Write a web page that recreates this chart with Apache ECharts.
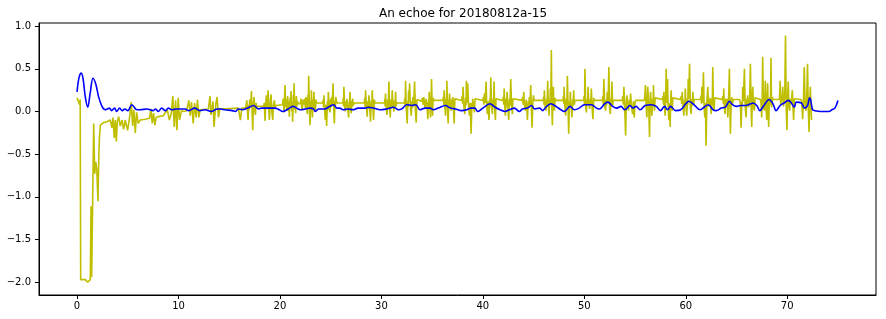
<!DOCTYPE html>
<html>
<head>
<meta charset="utf-8">
<script src="https://cdn.jsdelivr.net/npm/echarts@6/dist/echarts.min.js"></script>
<style>
html,body{margin:0;padding:0;background:#fff;}
#chart{width:886px;height:319px;}
</style>
</head>
<body>
<div id="chart"></div>
<script>
const chartTitle = "An echoe for 20180812a-15";
const xTicks = [0, 10, 20, 30, 40, 50, 60, 70];
const yTicks = [-2.0, -1.5, -1.0, -0.5, 0.0, 0.5, 1.0];

// yellow: the echo signal [time, amplitude]
const echoSignal = [
[0,0.16],[0.1,0.15],[0.19,0.16],[0.26,0.08],[0.31,0.14],[0.36,-1.97],[0.6,-1.97],[0.82,-1.97],[0.92,-1.98],[1.05,-2.0],[1.18,-1.99],[1.31,-1.97],[1.38,-1.11],[1.44,-1.94],[1.57,-1.95],[1.64,-0.14],[1.74,-0.73],[1.84,-0.59],[1.94,-0.66],[2.06,-1.05],[2.16,-0.45],[2.22,-0.28],[2.3,-0.16],[2.6,-0.13],[2.95,-0.12],[3.27,-0.1],
[3.28,-0.12],[3.44,-0.19],[3.54,-0.07],[3.67,-0.31],[3.77,-0.10],[3.87,-0.35],[3.97,-0.12],[4.1,-0.06],[4.26,-0.17],[4.43,-0.10],[4.59,-0.21],[4.75,-0.10],[4.98,-0.22],[5.18,-0.07],[5.34,0.11],[5.48,-0.17],[5.6,0.02],[5.74,-0.25],[5.87,-0.01],[6.03,-0.14],[6.23,-0.10],[6.72,-0.09],[7.15,-0.08],[7.28,0.03],[7.41,-0.14],[7.54,-0.02],[7.67,-0.16],[7.8,-0.07],[8.0,-0.06],[8.5,-0.05],[8.9,0.02],[9.1,-0.10],[9.28,-0.03],[9.44,0.18],[9.58,-0.18],[9.71,0.13],[9.84,-0.22],[9.97,0.16],[10.1,-0.10],[10.3,0.01],[10.5,0.0],[10.8,0.01],
[10.92,0.02],[11.02,0.13],[11.15,-0.05],[11.28,0.11],[11.45,-0.14],[11.58,0.10],[11.74,-0.07],[11.87,0.14],[12.0,-0.07],[12.14,0.02],[12.95,0.03],[13.1,0.18],[13.2,-0.04],[13.4,0.12],[13.5,-0.18],[13.68,0.09],[13.8,0.17],[13.94,-0.07],[14.07,0.03],[15.9,0.04],[16.1,-0.10],[16.24,0.04],
[16.6,0.04],[16.67,0.08],[16.73,0.13],[16.8,0.0],[16.86,-0.10],[16.93,0.08],[16.97,0.02],[17.02,0.14],[17.1,0.05],[17.19,0.24],[17.25,0.0],[17.32,-0.22],[17.38,0.08],[17.45,0.17],[17.52,0.02],[17.58,-0.04],[17.64,0.1],[17.7,0.06],
[18.4,0.06],[18.46,0.1],[18.53,-0.11],[18.6,0.1],[18.67,0.19],[18.74,0.05],[18.83,0.25],[18.9,0.02],[18.96,-0.10],[19.04,0.1],[19.12,0.20],[19.2,0.0],[19.29,-0.10],[19.36,0.08],[19.45,0.13],[19.52,0.03],[19.6,0.07],
[20.25,0.08],[20.32,0.15],[20.4,-0.01],[20.5,0.31],[20.56,0.05],[20.6,0.14],[20.66,0.01],[20.76,0.18],[20.84,0.0],[20.88,0.12],[20.93,-0.06],[21.0,0.16],[21.05,0.06],[21.09,0.24],[21.17,0.0],[21.21,0.1],[21.25,-0.12],[21.33,0.2],[21.36,0.1],[21.39,0.33],[21.46,0.02],[21.5,0.12],[21.55,-0.02],[21.62,0.18],[21.68,0.06],[21.74,0.12],[21.8,0.09],
[22.0,0.09],[22.08,0.15],[22.14,0.05],[22.2,0.02],[22.28,0.14],[22.37,0.08],[22.45,0.15],[22.5,0.04],[22.57,0.17],[22.64,0.06],[22.7,-0.03],[22.76,0.2],[22.8,0.1],[22.83,0.42],[22.9,0.05],[22.96,-0.16],[23.03,0.12],[23.06,0.0],[23.1,0.25],[23.15,0.08],[23.2,-0.07],[23.28,0.14],[23.31,0.04],[23.35,0.23],[23.42,0.05],[23.5,0.01],[23.55,0.14],[23.6,0.10],
[24.2,0.10],[24.27,0.14],[24.3,0.05],[24.34,0.19],[24.4,0.02],[24.47,-0.10],[24.53,0.08],[24.6,-0.17],[24.68,0.12],[24.72,0.02],[24.77,0.23],[24.85,0.04],[24.93,-0.01],[25.0,0.15],[25.05,0.05],[25.1,0.17],[25.16,0.08],[25.23,0.33],[25.3,0.02],[25.36,-0.14],[25.43,0.12],[25.46,0.04],[25.5,0.17],[25.6,0.10],
[26.2,0.10],[26.25,0.16],[26.27,0.06],[26.3,0.29],[26.37,0.08],[26.44,0.0],[26.5,0.12],[26.55,0.05],[26.6,0.15],[26.68,0.04],[26.77,-0.07],[26.83,0.12],[26.86,0.05],[26.9,0.23],[26.97,0.06],[27.03,-0.02],[27.1,0.12],[27.13,0.06],[27.16,0.15],[27.23,0.07],[27.3,0.10],
[28.3,0.10],[28.36,0.16],[28.4,0.05],[28.44,0.25],[28.52,0.06],[28.6,-0.06],[28.66,0.12],[28.7,0.03],[28.77,0.19],[28.85,0.04],[28.93,-0.12],[29.0,0.13],[29.04,0.04],[29.1,0.25],[29.17,0.03],[29.23,-0.10],[29.3,0.14],[29.36,0.10],
[30.3,0.10],[30.34,0.15],[30.37,0.06],[30.4,0.21],[30.48,0.05],[30.55,-0.04],[30.62,0.14],[30.67,0.04],[30.74,0.35],[30.8,0.05],[30.87,-0.07],[30.95,0.14],[31.0,0.05],[31.07,0.25],[31.15,0.06],[31.23,0.0],[31.3,0.13],[31.35,0.05],[31.4,0.23],[31.45,0.06],[31.5,0.10],
[32.25,0.10],[32.3,0.15],[32.34,0.06],[32.38,0.36],[32.45,0.04],[32.54,-0.14],[32.6,0.12],[32.64,0.05],[32.68,0.25],[32.72,0.12],[32.78,0.33],[32.86,0.04],[32.94,-0.05],[33.0,0.12],[33.05,0.04],[33.1,0.17],[33.18,0.06],[33.27,0.35],[33.35,0.02],[33.43,-0.13],[33.5,0.14],[33.56,0.12],
[33.95,0.12],[34.05,0.16],[34.1,0.08],[34.18,0.17],[34.25,0.08],[34.31,0.03],[34.4,0.15],[34.44,0.07],[34.48,0.11],[34.58,-0.09],[34.65,0.14],[34.68,0.05],[34.71,0.23],[34.78,0.06],[34.84,-0.07],[34.9,0.16],[34.94,0.38],[35.0,0.06],[35.04,-0.05],[35.1,0.16],[35.17,0.13],
[36.05,0.13],[36.1,0.17],[36.14,0.08],[36.18,0.25],[36.25,0.06],[36.32,-0.05],[36.38,0.15],[36.41,0.07],[36.45,0.36],[36.52,0.04],[36.58,-0.14],[36.65,0.14],[36.68,0.06],[36.71,0.21],[36.8,0.07],[36.88,0.01],[36.96,0.15],[37.0,0.08],[37.05,0.17],[37.1,0.04],[37.17,-0.14],[37.24,0.15],[37.3,0.13],
[37.9,0.13],[37.96,0.18],[38.0,0.09],[38.05,0.29],[38.13,0.06],[38.22,-0.03],[38.3,0.16],[38.34,0.07],[38.38,0.36],[38.44,0.1],[38.5,0.33],[38.6,0.05],[38.68,-0.05],[38.75,0.1],[38.84,-0.26],[38.92,0.1],[38.96,0.05],[39.0,0.15],[39.08,0.06],[39.17,-0.01],[39.23,0.15],[39.3,0.13],
[40.0,0.13],[40.06,0.17],[40.1,0.08],[40.15,0.21],[40.22,0.1],[40.32,0.35],[40.38,0.06],[40.45,-0.03],[40.52,0.12],[40.6,-0.10],[40.68,0.15],[40.72,0.06],[40.78,0.40],[40.86,0.05],[40.94,-0.03],[41.02,0.15],[41.06,0.07],[41.1,0.35],[41.17,0.03],[41.24,-0.10],[41.3,0.15],[41.37,0.13],
[41.96,0.13],[42.02,0.17],[42.06,0.08],[42.1,0.27],[42.16,0.06],[42.22,-0.05],[42.3,0.15],[42.34,0.06],[42.39,0.23],[42.47,0.04],[42.55,-0.10],[42.62,0.15],[42.67,0.07],[42.75,0.38],[42.83,0.06],[42.91,-0.03],[42.97,0.15],[43.04,0.13],
[43.86,0.13],[43.92,0.17],[43.97,0.08],[44.03,0.23],[44.1,0.07],[44.2,0.01],[44.27,0.14],[44.32,0.05],[44.39,-0.10],[44.47,0.12],[44.52,0.05],[44.58,0.17],[44.65,0.08],[44.71,0.31],[44.78,0.04],[44.85,-0.19],[44.92,0.1],[44.98,0.19],[45.05,0.13],
[45.93,0.13],[46.0,0.17],[46.03,0.08],[46.06,0.25],[46.14,0.06],[46.22,0.01],[46.3,0.15],[46.34,0.08],[46.39,0.36],[46.46,0.06],[46.52,-0.05],[46.58,0.14],[46.62,0.08],[46.65,0.27],[46.7,0.1],[46.75,0.72],[46.8,0.05],[46.85,-0.16],[46.9,0.12],[46.95,0.29],[47.0,0.06],[47.05,0.01],[47.12,0.16],[47.18,0.13],
[47.9,0.13],[47.95,0.18],[47.98,0.09],[48.0,0.29],[48.08,0.06],[48.16,-0.05],[48.23,0.15],[48.28,0.07],[48.33,0.42],[48.4,0.04],[48.46,-0.26],[48.53,0.12],[48.57,0.05],[48.62,0.23],[48.7,0.05],[48.78,-0.07],[48.86,0.14],[48.9,0.07],[48.95,0.25],[49.02,0.08],[49.08,0.13],
[49.93,0.13],[49.98,0.18],[50.02,0.08],[50.06,0.50],[50.13,0.06],[50.2,-0.01],[50.28,0.14],[50.32,0.08],[50.36,0.29],[50.44,0.1],[50.52,0.03],[50.6,0.15],[50.64,0.07],[50.69,0.27],[50.77,0.04],[50.85,-0.09],[50.92,0.16],[50.98,0.13],
[51.77,0.13],[51.82,0.18],[51.87,0.08],[51.93,0.38],[52.0,0.07],[52.1,0.01],[52.16,0.14],[52.2,0.07],[52.26,0.23],[52.34,0.1],[52.42,0.52],[52.49,0.05],[52.56,-0.03],[52.63,0.15],[52.67,0.08],[52.72,0.35],[52.79,0.07],[52.85,0.13],
[53.74,0.13],[53.8,0.18],[53.85,0.08],[53.9,0.29],[53.98,0.05],[54.07,-0.28],[54.14,0.12],[54.2,0.19],[54.28,0.06],[54.36,0.01],[54.44,0.14],[54.5,0.06],[54.56,0.21],[54.66,0.05],[54.76,-0.03],[54.84,0.12],[54.92,-0.07],[54.99,0.1],[55.05,0.13],
[55.93,0.13],[56.03,0.31],[56.1,0.06],[56.16,-0.07],[56.21,0.12],[56.26,0.29],[56.35,0.05],[56.43,-0.30],[56.48,0.1],[56.53,0.23],[56.6,0.06],[56.66,-0.05],[56.74,0.15],[56.78,0.08],[56.82,0.31],[56.87,0.08],[56.92,0.01],[56.98,0.16],[57.05,0.14],
[57.7,0.14],[57.76,0.18],[57.8,0.08],[57.84,0.23],[57.9,0.06],[57.97,-0.05],[58.02,0.15],[58.07,0.50],[58.13,0.1],[58.2,0.38],[58.27,0.04],[58.33,-0.10],[58.39,0.1],[58.46,-0.18],[58.51,0.12],[58.56,0.25],[58.61,0.06],[58.66,0.01],[58.73,0.16],[58.8,0.14],
[59.48,0.14],[59.55,0.18],[59.6,0.09],[59.65,0.23],[59.73,0.06],[59.81,-0.05],[59.88,0.14],[59.92,0.07],[59.95,0.27],[60.02,0.05],[60.1,-0.05],[60.17,0.16],[60.2,0.08],[60.24,0.38],[60.3,0.15],[60.37,0.56],[60.45,0.05],[60.53,-0.03],[60.6,0.15],[60.65,0.07],[60.7,0.23],[60.77,0.08],[60.83,0.14],
[61.45,0.14],[61.52,0.19],[61.55,0.09],[61.58,0.29],[61.66,0.1],[61.74,0.46],[61.81,0.05],[61.88,-0.07],[61.94,0.1],[62.0,-0.40],[62.08,0.12],[62.17,0.29],[62.25,0.06],[62.33,0.09],[62.42,0.16],[62.5,-0.03],[62.58,0.15],[62.62,0.08],[62.66,0.52],[62.72,0.06],[62.79,0.01],[62.85,0.16],[62.9,0.14],
[63.58,0.14],[63.66,0.18],[63.7,0.09],[63.74,0.27],[63.8,0.06],[63.87,-0.03],[63.95,0.15],[64.0,0.06],[64.04,0.09],[64.09,0.15],[64.14,-0.07],[64.22,0.14],[64.3,0.50],[64.35,0.06],[64.4,-0.26],[64.47,0.1],[64.53,0.17],[64.6,0.08],[64.67,0.14],
[65.3,0.14],[65.38,0.1],[65.45,-0.19],[65.53,0.12],[65.57,0.06],[65.61,0.29],[65.68,0.12],[65.78,0.50],[65.86,0.05],[65.94,-0.07],[66.02,0.15],[66.06,0.08],[66.1,0.19],[66.17,0.05],[66.24,0.08],[66.3,0.17],[66.37,0.56],[66.44,0.05],[66.5,-0.18],[66.55,0.12],[66.6,0.29],[66.68,0.05],[66.76,0.01],[66.83,0.16],[66.9,0.14],
[67.35,0.14],[67.42,0.1],[67.48,-0.07],[67.53,0.15],[67.58,0.64],[67.66,0.06],[67.75,0.01],[67.8,0.16],[67.84,0.36],[67.91,0.06],[67.98,-0.10],[68.02,0.14],[68.07,0.33],[68.12,0.05],[68.17,-0.18],[68.23,0.1],[68.3,0.17],[68.35,0.08],[68.4,0.63],[68.45,0.05],[68.5,0.09],[68.55,0.17],[68.6,0.14],
[69.2,0.14],[69.25,0.18],[69.3,0.36],[69.36,0.08],[69.43,0.07],[69.5,0.17],[69.56,0.29],[69.63,0.06],[69.7,0.13],[69.76,0.2],[69.83,0.89],[69.9,0.05],[69.97,-0.22],[70.03,0.12],[70.1,0.35],[70.17,0.06],[70.24,0.01],[70.3,0.15],[70.37,0.09],[70.44,0.16],[70.5,0.25],[70.57,0.05],[70.63,-0.10],[70.7,0.15],[70.77,0.14],
[71.36,0.14],[71.44,0.1],[71.52,-0.09],[71.6,0.14],[71.68,0.52],[71.76,0.06],[71.85,0.01],[71.92,0.15],[72.0,0.56],[72.07,0.05],[72.15,-0.24],[72.22,0.12],[72.28,0.29],[72.34,0.05],[72.4,-0.10]
];

// blue: the smooth model trace [time, amplitude]
const echoModel = [
[0,0.23],[0.2,0.40],[0.42,0.45],[0.6,0.38],[0.8,0.18],[1.05,0.05],[1.3,0.22],[1.57,0.39],[1.85,0.32],[2.13,0.17],[2.46,0.06],[2.79,0.02],[3.0,0.03],[3.2,0.04],[3.4,0.01],[3.7,0.04],[3.9,0.0],[4.2,0.04],[4.45,0.01],[4.7,0.03],[5.0,0.01],[5.4,0.08],[5.9,0.02],[6.2,0.02],[6.9,0.03],[7.5,0.01],[7.75,0.03],[8.0,0.0],[8.35,0.04],[8.7,0.01],[9.0,0.04],[9.35,0.02],[9.7,0.03],[10.2,0.03],[10.66,0.03],[11.0,0.01],[11.6,0.04],[12.1,0.01],[12.6,0.02],[13.3,0.0],[13.8,0.03],[14.1,0.03],[14.6,0.02],[15.3,0.01],[15.6,0.0],[15.9,0.03],[16.3,0.02],[16.8,0.04],[17.4,0.07],[17.9,0.03],[18.2,0.04],[18.8,0.04],[19.5,0.04],[19.8,0.03],[20.3,0.0],[20.8,0.03],[21.3,0.06],[21.8,0.03],
[22.0,0.02],[23.0,0.04],[23.3,0.03],[23.5,0.0],[23.8,0.03],[24.4,0.03],[24.9,0.06],[25.3,0.08],[25.6,0.04],[25.9,0.04],[26.2,0.02],[26.7,0.03],[27.2,0.02],[27.7,0.04],[28.4,0.04],[28.7,0.05],[29.2,0.04],[29.9,0.02],[30.5,0.03],[31.2,0.05],[31.7,0.02],[32.0,0.03],[32.5,0.08],[33.0,0.07],[33.4,0.08],[33.8,0.02],
[34.3,0.04],[34.8,0.04],[35.1,0.02],[35.6,0.04],[36.3,0.07],[36.8,0.04],[37.3,0.03],[37.9,0.01],[38.4,0.02],[38.8,0.04],[39.2,0.04],[39.5,0.0],[40.0,0.04],[40.7,0.09],[41.2,0.05],[41.7,0.02],[42.2,0.0],[42.6,0.02],[43.1,0.04],[43.6,0.0],[43.9,0.03],[44.4,0.04],[44.8,0.07],
[45.1,0.03],[45.6,0.04],[45.9,0.01],[46.2,0.05],[46.7,0.09],[47.2,0.06],[47.7,0.02],[48.0,0.0],[48.6,0.06],[49.0,0.02],[49.5,0.04],[50.0,0.08],[50.7,0.08],[51.2,0.04],[51.5,0.03],[52.0,0.09],[52.3,0.11],[52.8,0.06],[53.2,0.04],[53.6,0.06],[54.0,0.02],[54.5,0.07],[54.8,0.04],[55.1,0.06],[55.5,0.02],[56.0,0.07],
[56.6,0.08],[57.1,0.06],[57.5,0.01],[57.9,0.06],[58.2,0.02],[58.5,0.06],[59.0,0.01],[59.5,0.02],[60.0,0.09],[60.3,0.12],[60.9,0.07],[61.4,0.02],[61.8,0.05],[62.2,0.08],[62.7,0.02],[63.0,0.01],[63.5,0.04],[63.9,0.05],[64.3,0.12],[64.6,0.08],[65.0,0.06],[65.4,0.07],[65.9,0.07],[66.4,0.09],[66.6,0.10],[67.0,0.07],[67.3,0.01],
[67.7,0.07],[68.2,0.14],[68.6,0.09],[68.9,0.01],[69.3,0.07],[69.7,0.10],[70.1,0.13],[70.4,0.10],[70.7,0.05],[70.9,0.11],[71.4,0.10],[71.7,0.04],[72.0,0.07],[72.2,0.16],[72.3,0.14],[72.5,0.02],[72.7,0.01],[73.3,0.0],[74.1,0.0],[74.4,0.02],[74.7,0.04],[75.0,0.13]
];

const font = "DejaVu Sans";
const chart = echarts.init(document.getElementById('chart'), null, {renderer: 'canvas'});
const fmtY = v => (v < 0 ? '\u2212' : '') + Math.abs(v).toFixed(1);
chart.setOption({
  animation: false,
  backgroundColor: '#fff',
  title: {
    text: chartTitle, left: 458, top: 3, textAlign: 'center',
    textStyle: {fontFamily: font, fontSize: 12, fontWeight: 'normal', color: '#000'}
  },
  grid: {left: 39, top: 23, width: 837, height: 272, show: true, borderColor: '#000', borderWidth: 1, backgroundColor: 'transparent'},
  xAxis: {
    type: 'value', min: -3.75, max: 78.75,
    axisLine: {show: true, onZero: false, lineStyle: {color: '#000', width: 1}},
    axisTick: {show: true, inside: false, length: 4, customValues: xTicks, lineStyle: {color: '#000', width: 1}},
    axisLabel: {customValues: xTicks, margin: 6, fontFamily: font, fontSize: 10, color: '#000', formatter: v => String(v)},
    splitLine: {show: false}
  },
  yAxis: {
    type: 'value', min: -2.15, max: 1.037,
    axisLine: {show: true, onZero: false, lineStyle: {color: '#000', width: 1}},
    axisTick: {show: true, inside: false, length: 4, customValues: yTicks, lineStyle: {color: '#000', width: 1}},
    axisLabel: {customValues: yTicks, margin: 8, fontFamily: font, fontSize: 10, color: '#000', formatter: fmtY},
    splitLine: {show: false}
  },
  series: [
    {type: 'line', data: echoSignal, showSymbol: false, symbol: 'none', lineStyle: {color: '#bfbf00', width: 1.6}, z: 2},
    {type: 'line', data: echoModel, showSymbol: false, symbol: 'none', smooth: 0.35, lineStyle: {color: '#0000ff', width: 1.6}, z: 3}
  ]
});
</script>
</body>
</html>
